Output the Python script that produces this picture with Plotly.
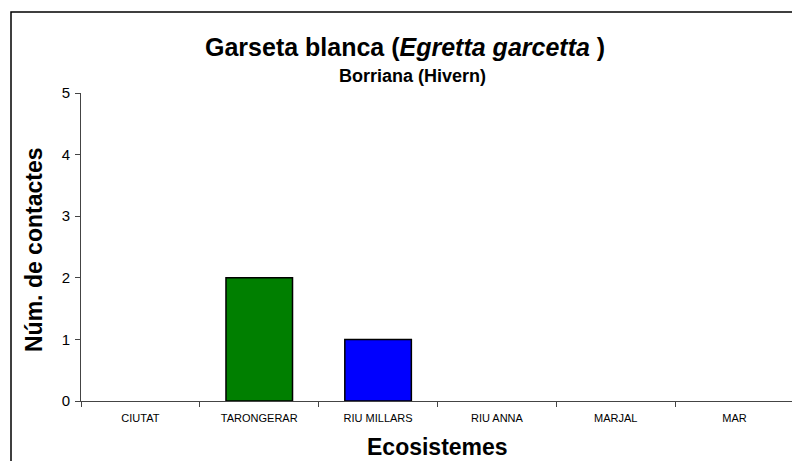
import plotly.graph_objects as go

ecosistemes = ['CIUTAT', 'TARONGERAR', 'RIU MILLARS', 'RIU ANNA', 'MARJAL', 'MAR']
contactes = [0, 2, 1, 0, 0, 0]
colors = ['#808080', '#007F00', '#0000FF', '#808080', '#808080', '#808080']
y_ticks = [0, 1, 2, 3, 4, 5]

font = 'Liberation Sans, Arial, sans-serif'

# page has an 8px body margin, so the figure is shifted; work in page pixels
OFF = 8
W, H = 800 - OFF, 461 - OFF
PL, PR, PT, PB = 81 - OFF, 794 - OFF, 93 - OFF, 401 - OFF   # plot area edges


def px_x(x):
    return (x - OFF - PL) / (PR - PL)


def px_y(y):
    return (PB - (y - OFF)) / (PB - PT)


fig = go.Figure(go.Bar(
    x=ecosistemes, y=contactes, width=0.56,
    marker=dict(color=colors,
                line=dict(color='black', width=[1.5 if v > 0 else 0 for v in contactes]))))

fig.update_layout(
    width=W, height=H,
    margin=dict(l=PL, r=W - PR, t=PT, b=H - PB),
    plot_bgcolor='white', paper_bgcolor='white',
    showlegend=False,
    font=dict(family=font, color='black'),
)

fig.update_xaxes(
    range=[-0.5, 5.5], showline=True, linecolor='#444', linewidth=1,
    ticks='outside', tickson='boundaries', ticklen=5, tickcolor='#444',
    tickfont=dict(size=11, family=font), ticklabelstandoff=7, showgrid=False,
)
fig.update_yaxes(
    range=[0, 5], tickvals=y_ticks, showline=True, linecolor='#444', linewidth=1,
    ticks='outside', ticklen=5, tickcolor='#444', showgrid=False, zeroline=False,
    tickfont=dict(size=15, family=font), ticklabelstandoff=2,
)

# title, subtitle and axis titles
fig.add_annotation(text='<b>Garseta blanca (<i>Egretta garcetta</i> )</b>',
                   xref='paper', yref='paper', x=px_x(405), y=px_y(47),
                   xanchor='center', yanchor='middle', showarrow=False,
                   font=dict(size=25, family=font))
fig.add_annotation(text='<b>Borriana (Hivern)</b>', xref='paper', yref='paper',
                   x=px_x(412), y=px_y(76), xanchor='center', yanchor='middle', showarrow=False,
                   font=dict(size=18, family=font))
fig.add_annotation(text='<b>Ecosistemes</b>', xref='paper', yref='paper',
                   x=0.5, y=px_y(447), xanchor='center', yanchor='middle', showarrow=False,
                   font=dict(size=23, family=font))
fig.add_annotation(text='<b>Núm. de contactes</b>', xref='paper', yref='paper',
                   x=px_x(34), y=px_y(250), xanchor='center', yanchor='middle',
                   textangle=-90, showarrow=False,
                   font=dict(size=23, family=font))

# outer chart frame (cropped at right and bottom)
fig.add_shape(type='rect', xref='paper', yref='paper',
              x0=px_x(11), x1=1.2, y0=-0.5, y1=px_y(12),
              line=dict(color='black', width=1.5), layer='below')

fig.write_html("out.html")
